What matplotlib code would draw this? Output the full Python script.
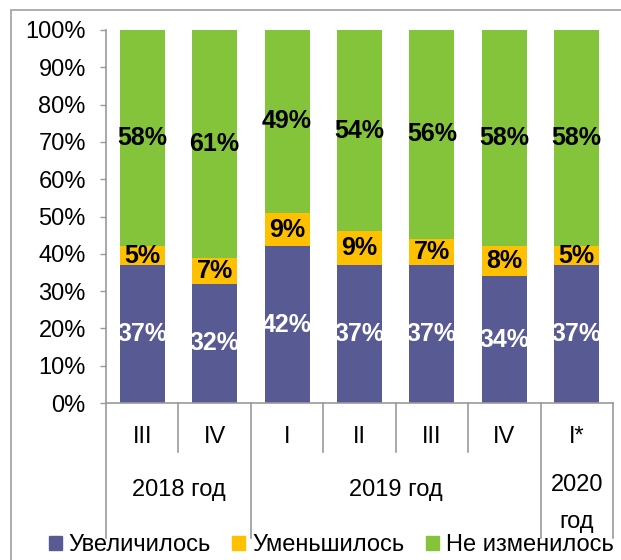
import matplotlib
matplotlib.use("Agg")
import matplotlib.pyplot as plt
from matplotlib.patches import Rectangle
from matplotlib.lines import Line2D
import numpy as np

plt.rcParams['font.family'] = ['Liberation Sans', 'DejaVu Sans']

quarters = ["III", "IV", "I", "II", "III", "IV", "I*"]
years = ["2018 год", "2019 год", "2020\nгод"]
year_spans = [(0, 2), (2, 6), (6, 7)]
increased = [37, 32, 42, 37, 37, 34, 37]
decreased = [5, 7, 9, 9, 7, 8, 5]
unchanged = [58, 61, 49, 54, 56, 58, 58]
series_names = ["Увеличилось", "Уменьшилось", "Не изменилось"]
colors = ["#585A94", "#FFC000", "#84C43A"]
label_colors = ["white", "black", "black"]

FS = 17

fig = plt.figure(figsize=(6.21, 5.6), dpi=100)
ax = fig.add_axes([106/621, 1-403/560, (613-106)/621, (403-30)/560])

x = np.arange(len(quarters))
bottom = np.zeros(len(quarters))
for vals, col, lc in zip([increased, decreased, unchanged], colors, label_colors):
    vals = np.array(vals, dtype=float)
    ax.bar(x, vals, 0.62, bottom=bottom, color=col, edgecolor='none')
    for xi, b, v in zip(x, bottom, vals):
        ax.text(xi, b + v/2, f"{int(v)}%", ha='center', va='center',
                fontsize=18, fontweight='bold', color=lc)
    bottom += vals

ax.set_xlim(-0.5, len(quarters) - 0.5)
ax.set_ylim(0, 100)
ax.set_yticks(np.arange(0, 101, 10))
ax.set_yticklabels([f"{v}%" for v in range(0, 101, 10)], fontsize=FS)
ax.tick_params(axis='y', length=4.5, width=1, color='#999999', pad=10)
ax.set_xticks([])
for s in ['top', 'right']:
    ax.spines[s].set_visible(False)
for s in ['left', 'bottom']:
    ax.spines[s].set_color('#999999')
    ax.spines[s].set_linewidth(1.2)

trans = ax.get_xaxis_transform()
year_bounds = {s for s, e in year_spans} | {e for s, e in year_spans}
for b in range(len(quarters) + 1):
    y_end = -0.362 if b in year_bounds else -0.131
    ax.add_line(Line2D([b - 0.5, b - 0.5], [0, y_end], transform=trans,
                       color='#999999', lw=1.2, clip_on=False))
for xi, q in zip(x, quarters):
    ax.text(xi, -0.091, q, transform=trans, ha='center', va='center', fontsize=FS)
for (s, e), yl in zip(year_spans, years):
    ypos = -0.27 if "\n" in yl else -0.233
    ax.text((s + e - 1) / 2, ypos, yl, transform=trans, ha='center', va='center',
            fontsize=FS, linespacing=1.85)

fig.patches.append(Rectangle((11/621, -0.1), 1.2, 1 - 10/560 + 0.1,
                             transform=fig.transFigure, fill=False,
                             edgecolor='#A0A0A0', lw=1.2, clip_on=False))

handles = [Rectangle((0, 0), 1, 1, color=c) for c in colors]
fig.legend(handles, series_names, loc='center', bbox_to_anchor=(331/621, 1 - 545/560),
           ncol=3, frameon=False, fontsize=17, handlelength=0.55, handleheight=0.55,
           handletextpad=0.3, columnspacing=0.9)

fig.savefig("out.png", dpi=100)
